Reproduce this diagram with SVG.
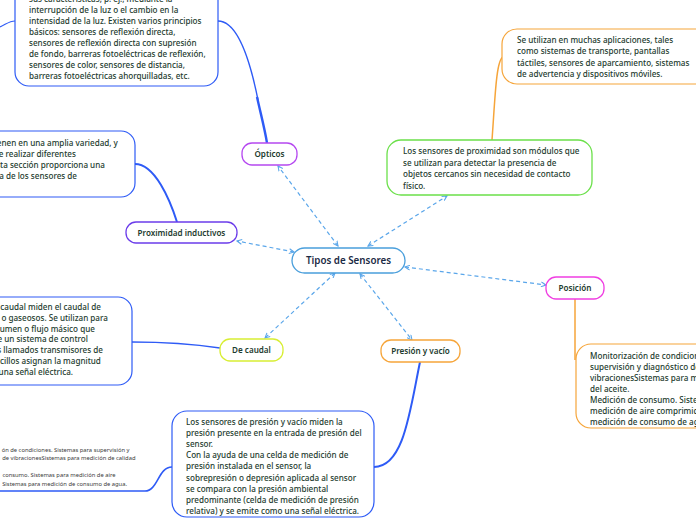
<svg xmlns="http://www.w3.org/2000/svg" width="696" height="520" viewBox="0 0 696 520">
<defs>
<marker id="ah" viewBox="0 0 8 8" refX="7" refY="4" markerWidth="6" markerHeight="6" orient="auto-start-reverse" markerUnits="userSpaceOnUse">
<path d="M0.5,0.8 L7,4 L0.5,7.2" fill="none" stroke="#5aa6ea" stroke-width="1.4"/>
</marker>
<style>
.bg{fill:#ffffff}
.t{font-family:"Noto Sans","Open Sans",sans-serif;fill:#1d3b2e}
.body{font-size:8.1px;font-weight:500}
.lab{font-size:8.1px;font-weight:600;text-anchor:middle}
.main{font-size:9.8px;font-weight:600;text-anchor:middle;fill:#1b2b45}
.tiny{font-family:"Noto Sans",sans-serif;font-size:5.8px;fill:#3a3a3a;text-anchor:end}
.bluebox{fill:#ffffff;stroke:#2e5bf6;stroke-width:1.2}
.orbox{fill:#ffffff;stroke:#f6a53a;stroke-width:1.2}
.grbox{fill:#ffffff;stroke:#6be04a;stroke-width:1.3}
.dash{fill:none;stroke:#5aa6ea;stroke-width:1.2;stroke-dasharray:4 3;marker-start:url(#ah);marker-end:url(#ah)}
.blu{fill:none;stroke:#2e5bf6}
.org{fill:none;stroke:#f6a53a;stroke-width:1.5}
</style>
</defs>
<rect class="bg" x="0" y="0" width="696" height="520"/>

<g id="connectors">
<path class="blu" stroke-width="1.4" d="M218,21 C240,21 252,70 258,100"/>
<path class="blu" stroke-width="2.4" d="M257,97 C261,115 265,130 267,143"/>
<path class="blu" stroke-width="1.2" d="M0,27 C8,23 10,21 15,21"/>
<path class="blu" stroke-width="2" d="M135,164 C155,164 170,200 177,222"/>
<path class="blu" stroke-width="1.6" d="M132,342 C170,342 200,345 220,348"/>
<path class="blu" stroke-width="2" d="M420,362 C410,410 404,467 374,467"/>
<path class="blu" stroke-width="1.6" d="M172,467 C158,467 158,491 145,491 L0,491"/>
<path class="org" d="M492,140 C495,100 496,60 503,57"/>
<path class="org" d="M575,299 L575,360"/>
<path class="dash" d="M338,246 L278,166"/>
<path class="dash" d="M368,246 L447,196"/>
<path class="dash" d="M294,252 L237,241"/>
<path class="dash" d="M405,267 L546,285"/>
<path class="dash" d="M335,273 L265,338"/>
<path class="dash" d="M360,274 L412,340"/>
</g>

<g id="n-main">
<rect x="292" y="248" width="113" height="25" rx="12.5" fill="#fff" stroke="#4a9fdc" stroke-width="1.3"/>
<text class="t main" x="348.5" y="264">Tipos de Sensores</text>
</g>

<g id="n-opticos">
<rect x="242" y="143" width="55" height="22" rx="10" fill="#fff" stroke="#b548f0" stroke-width="1.3"/>
<text class="t lab" x="269.5" y="157">Ópticos</text>
</g>

<g id="n-inductivos">
<rect x="126" y="222" width="111" height="21" rx="10" fill="#fff" stroke="#6b3cea" stroke-width="1.3"/>
<text class="t lab" x="181.5" y="235.5">Proximidad inductivos</text>
</g>

<g id="n-caudal">
<rect x="220" y="339" width="63" height="22" rx="10" fill="#fff" stroke="#d8ee33" stroke-width="1.3"/>
<text class="t lab" x="251.5" y="353">De caudal</text>
</g>

<g id="n-presion">
<rect x="381" y="340" width="79" height="22" rx="10" fill="#fff" stroke="#f6a53a" stroke-width="1.3"/>
<text class="t lab" x="420.5" y="354">Presión y vacío</text>
</g>

<g id="n-posicion">
<rect x="546" y="277" width="58" height="22" rx="10" fill="#fff" stroke="#f03ee2" stroke-width="1.3"/>
<text class="t lab" x="575" y="291">Posición</text>
</g>

<g id="n-proximidad">
<rect class="grbox" x="387" y="140" width="205" height="55" rx="14"/>
<text class="t body" x="403">
<tspan x="403" y="154">Los sensores de proximidad son módulos que</tspan>
<tspan x="403" y="165.5">se utilizan para detectar la presencia de</tspan>
<tspan x="403" y="177">objetos cercanos sin necesidad de contacto</tspan>
<tspan x="403" y="188.5">físico.</tspan>
</text>
</g>

<g id="n-aplicaciones">
<rect class="orbox" x="502" y="29" width="210" height="55" rx="15"/>
<text class="t body" x="517">
<tspan x="517" y="43">Se utilizan en muchas aplicaciones, tales</tspan>
<tspan x="517" y="54.3">como sistemas de transporte, pantallas</tspan>
<tspan x="517" y="65.6">táctiles, sensores de aparcamiento, sistemas</tspan>
<tspan x="517" y="76.9">de advertencia y dispositivos móviles.</tspan>
</text>
</g>

<g id="n-posicion-det">
<rect class="orbox" x="576" y="344" width="200" height="84" rx="15"/>
<text class="t body" x="590">
<tspan x="590" y="359">Monitorización de condiciones. Sistemas para</tspan>
<tspan x="590" y="370">supervisión y diagnóstico de</tspan>
<tspan x="590" y="381">vibracionesSistemas para medición de calidad</tspan>
<tspan x="590" y="392">del aceite.</tspan>
<tspan x="590" y="403">Medición de consumo. Sistemas para</tspan>
<tspan x="590" y="414">medición de aire comprimido. Sistemas para</tspan>
<tspan x="590" y="425">medición de consumo de agua.</tspan>
</text>
</g>

<g id="n-opticos-det">
<rect class="bluebox" x="15" y="-30" width="203" height="116" rx="14"/>
<text class="t body" x="29">
<tspan x="29" y="2">sus características, p. ej., mediante la</tspan>
<tspan x="29" y="13.2">interrupción de la luz o el cambio en la</tspan>
<tspan x="29" y="24.2">intensidad de la luz. Existen varios principios</tspan>
<tspan x="29" y="35.2">básicos: sensores de reflexión directa,</tspan>
<tspan x="29" y="46.2">sensores de reflexión directa con supresión</tspan>
<tspan x="29" y="57.2">de fondo, barreras fotoeléctricas de reflexión,</tspan>
<tspan x="29" y="68.2">sensores de color, sensores de distancia,</tspan>
<tspan x="29" y="79.2">barreras fotoeléctricas ahorquilladas, etc.</tspan>
</text>
</g>

<g id="n-inductivos-det">
<rect class="bluebox" x="-80" y="131" width="215" height="66" rx="14"/>
<text class="t body" style="text-anchor:end">
<tspan x="120" y="146">vienen en una amplia variedad, y</tspan>
<tspan x="78" y="157">de realizar diferentes</tspan>
<tspan x="107" y="168">sta sección proporciona una</tspan>
<tspan x="77" y="179">a de los sensores de</tspan>
</text>
</g>

<g id="n-caudal-det">
<rect class="bluebox" x="-90" y="297" width="222" height="88" rx="14"/>
<text class="t body" style="text-anchor:end">
<tspan x="103" y="310">e caudal miden el caudal de</tspan>
<tspan x="110" y="320.8">s o gaseosos. Se utilizan para</tspan>
<tspan x="97" y="331.6">lumen o flujo másico que</tspan>
<tspan x="90" y="342.4">e un sistema de control</tspan>
<tspan x="105" y="353.2">s llamados transmisores de</tspan>
<tspan x="103" y="364">ncillos asignan la magnitud</tspan>
<tspan x="73" y="374.8">una señal eléctrica.</tspan>
</text>
</g>

<g id="n-presion-det">
<rect class="bluebox" x="172" y="411" width="202" height="106" rx="15"/>
<text class="t body" x="186">
<tspan x="186" y="425">Los sensores de presión y vacío miden la</tspan>
<tspan x="186" y="436.1">presión presente en la entrada de presión del</tspan>
<tspan x="186" y="447.2">sensor.</tspan>
<tspan x="186" y="458.3">Con la ayuda de una celda de medición de</tspan>
<tspan x="186" y="469.4">presión instalada en el sensor, la</tspan>
<tspan x="186" y="480.5">sobrepresión o depresión aplicada al sensor</tspan>
<tspan x="186" y="491.6">se compara con la presión ambiental</tspan>
<tspan x="186" y="502.7">predominante (celda de medición de presión</tspan>
<tspan x="186" y="513.8">relativa) y se emite como una señal eléctrica.</tspan>
</text>
</g>

<g id="n-presion-sub">
<text class="tiny">
<tspan x="131" y="452">ón de condiciones. Sistemas para supervisión y</tspan>
<tspan x="137" y="459.5">de vibracionesSistemas para medición de calidad</tspan>
<tspan x="117" y="476.5">consumo. Sistemas para medición de aire</tspan>
<tspan x="127" y="485.5">Sistemas para medición de consumo de agua.</tspan>
</text>
</g>
</svg>
